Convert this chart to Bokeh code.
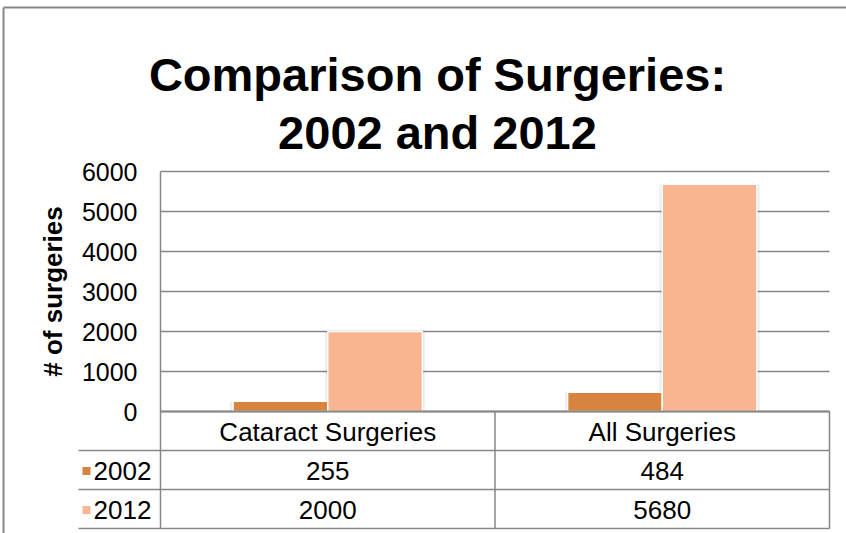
import math
from bokeh.plotting import figure
from bokeh.models import Range1d, ColumnDataSource
from bokeh.core.properties import value
from bokeh.embed import file_html
from bokeh.resources import INLINE

categories = ["Cataract Surgeries", "All Surgeries"]
years = ["2002", "2012"]
values_2002 = [255, 484]
values_2012 = [2000, 5680]
y_ticks = [0, 1000, 2000, 3000, 4000, 5000, 6000]
title_lines = ["Comparison of Surgeries:", "2002 and 2012"]
y_label = "# of surgeries"

colors = ["#D9843E", "#F8B590"]
grid_col = "#878787"
FONT = "Liberation Sans"

W, H = 846, 533
# plot area in page pixels
PL, PR, PT, PB = 160, 829, 171, 411
YMAX = 6000
NCAT = len(categories)
kx = (PR - PL) / NCAT      # pixels per category unit
ky = (PB - PT) / YMAX      # pixels per value unit

def dx(X):   # page pixel x -> data x
    return (X - PL) / kx

def dy(Y):   # page pixel y -> data y
    return (PB - Y) / ky

p = figure(width=W, height=H, x_range=Range1d(dx(0), dx(W)), y_range=Range1d(dy(H), dy(0)),
           output_backend="svg", toolbar_location=None, x_axis_location=None, y_axis_location=None,
           min_border=0, outline_line_color=None)
p.grid.visible = False

# gridlines at the value ticks, across the plot area
p.segment(x0=[0] * len(y_ticks), x1=[NCAT] * len(y_ticks), y0=y_ticks, y1=y_ticks,
          line_color=grid_col, line_width=1.5)

# bars (with a faint soft shadow behind them)
cat_x = [i + 0.5 for i in range(NCAT)]
bw = 0.283
src = ColumnDataSource(dict(x2002=[c - bw / 2 for c in cat_x], x2012=[c + bw / 2 for c in cat_x],
                            v2002=values_2002, v2012=values_2012))
for grow in (6, 3):
    for xcol, vcol in (("x2002", "v2002"), ("x2012", "v2012")):
        p.vbar(x=xcol, top=vcol, width=bw + grow / kx, bottom=0, source=src,
               fill_color="black", fill_alpha=0.05, line_color=None)
p.vbar(x="x2002", top="v2002", width=bw, bottom=0, source=src,
       fill_color=colors[0], line_color="white", line_width=1.5)
p.vbar(x="x2012", top="v2012", width=bw, bottom=0, source=src,
       fill_color=colors[1], line_color="white", line_width=1.5)

def text(xs, ys, texts, size, align="center", baseline="middle", bold=False, angle=0):
    p.text(x=xs, y=ys, text=texts, text_font=value(FONT), text_font_size=size, text_align=align,
           text_baseline=baseline, text_font_style="bold" if bold else "normal", text_color="black",
           angle=angle)

def seg(x0, y0, x1, y1, w=1.5):
    p.segment(x0=[dx(x0)], y0=[dy(y0)], x1=[dx(x1)], y1=[dy(y1)], line_color=grid_col, line_width=w)

# y tick labels
text([dx(137)] * len(y_ticks), y_ticks, [str(t) for t in y_ticks], "25px", align="right")
# y axis title
text([dx(52)], [YMAX / 2], [y_label], "26px", bold=True, angle=math.pi / 2)

# outer chart border
seg(3, 7, W + 5, 7, 2)
seg(3, 7, 3, H + 5, 2)

# title
text([dx(437)], [dy(74)], [title_lines[0]], "47px", baseline="alphabetic", bold=True)
text([dx(437)], [dy(132)], [title_lines[1]], "47px", baseline="alphabetic", bold=True)

# data table
rows = [411, 450, 489, 528]
left = 78
seg(PL, PT, PL, rows[3])          # left edge of plot area / table
seg(PR, rows[0], PR, rows[3])
seg((PL + PR) / 2, rows[0], (PL + PR) / 2, rows[3])
seg(PL, rows[0], PR, rows[0], 2)
for y in rows[1:]:
    seg(left, y, PR, y)
text(cat_x, [dy((rows[0] + rows[1]) / 2 + 1)] * NCAT, categories, "26px")
for r, (yr, vals, col) in enumerate(zip(years, [values_2002, values_2012], colors)):
    yc = (rows[r + 1] + rows[r + 2]) / 2 + 1
    p.scatter(x=[dx(86)], y=[dy(yc)], marker="square", size=8, fill_color=col, line_color=None)
    text([dx(93)], [dy(yc)], [yr], "26px", align="left")
    text(cat_x, [dy(yc)] * NCAT, [str(v) for v in vals], "26px")

open("out.html", "w").write(file_html(p, INLINE))
